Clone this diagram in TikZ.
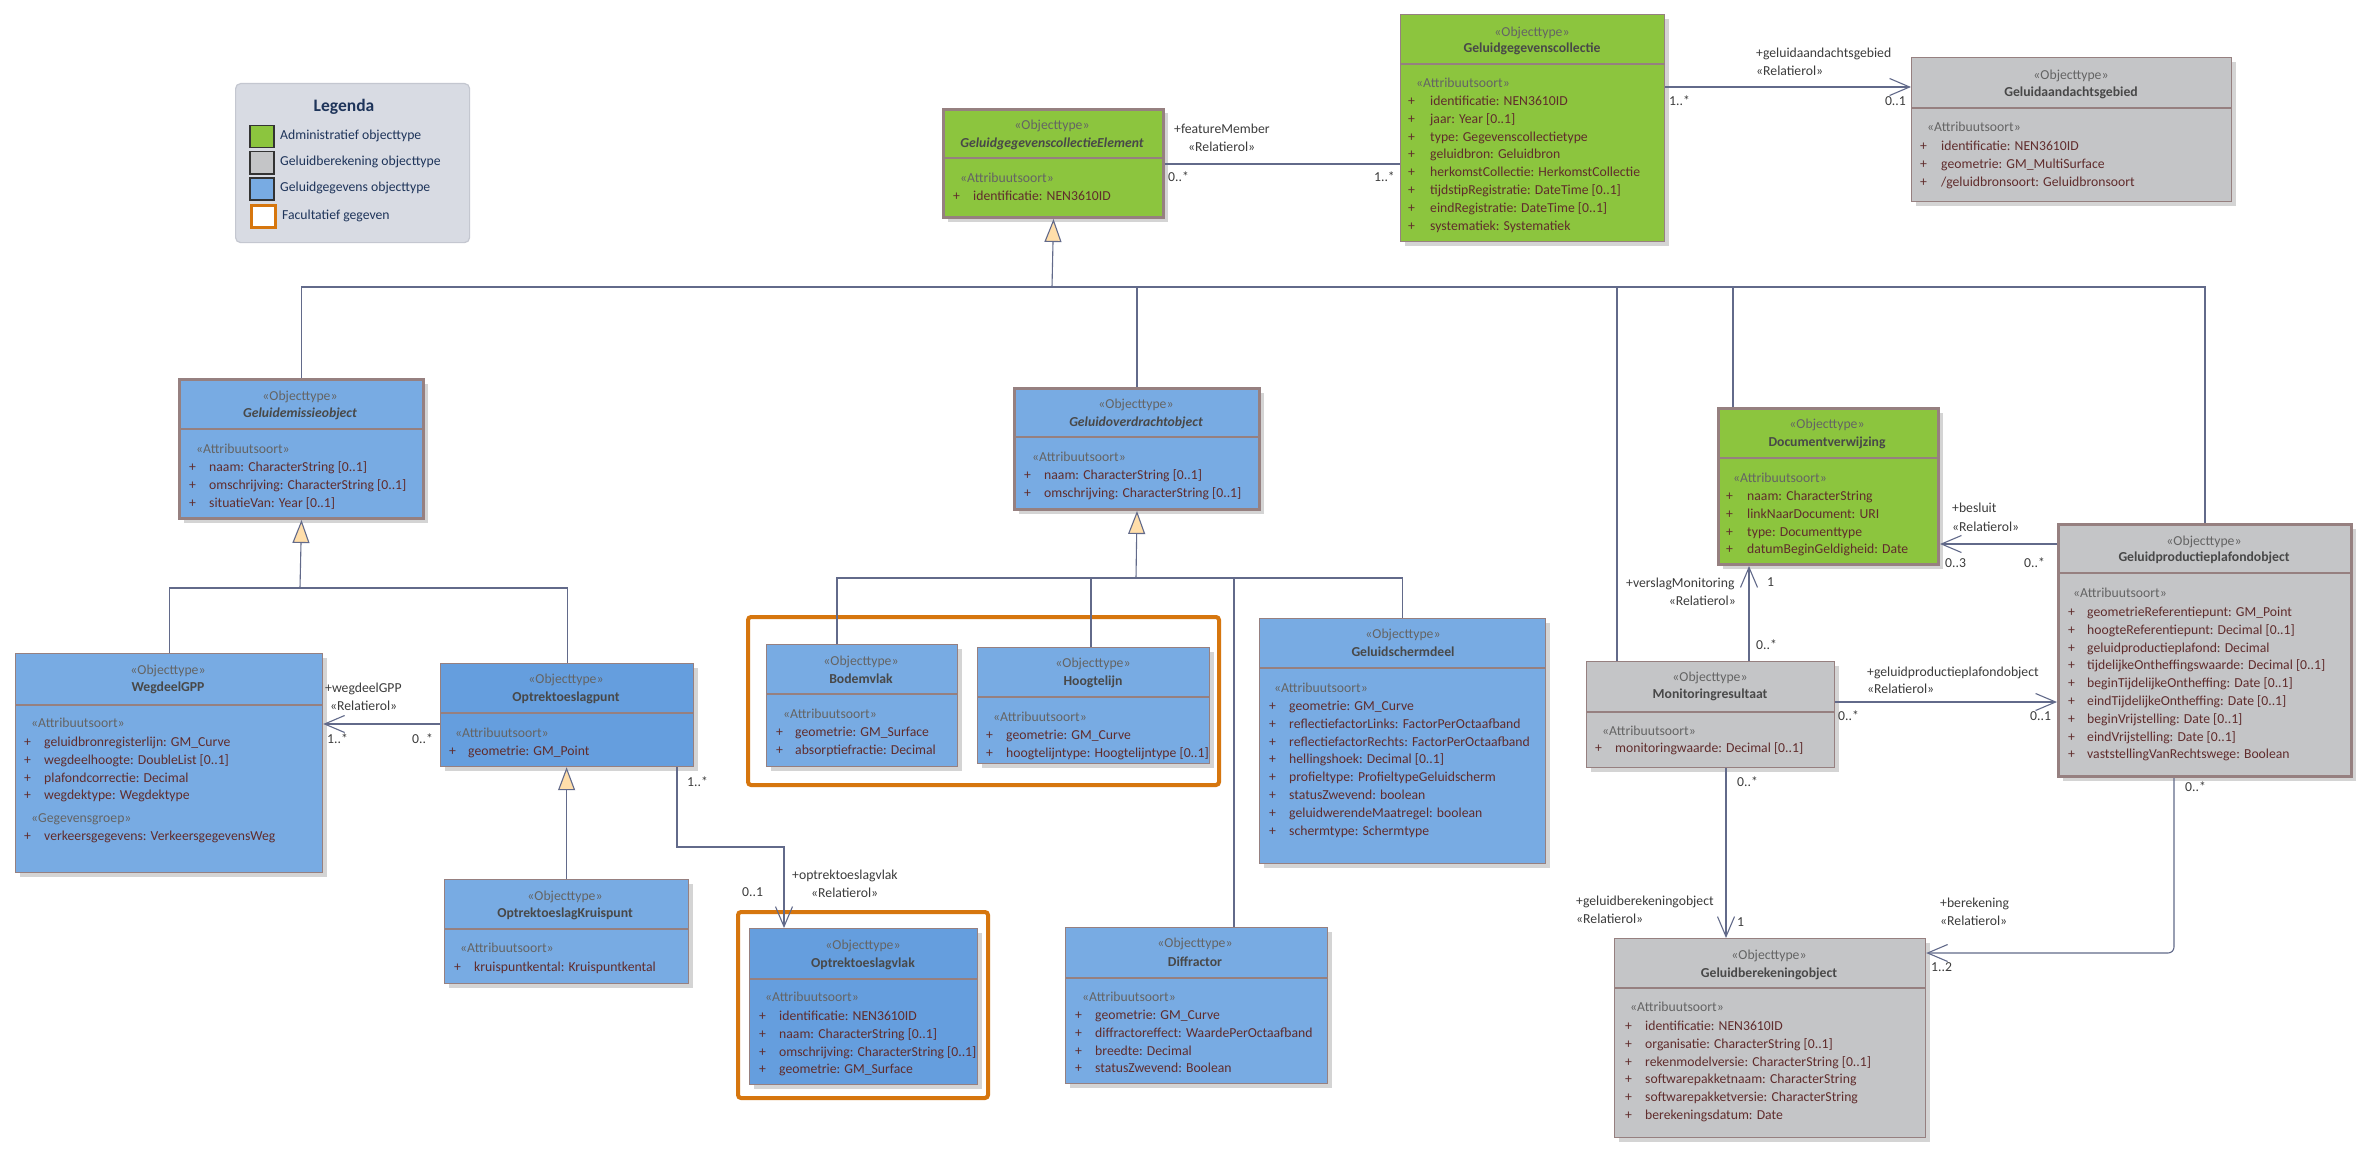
\documentclass[tikz,border=0pt]{standalone}
\usepackage{fontspec}
\setmainfont{Carlito}
\usetikzlibrary{arrows.meta,shadows}

\definecolor{cgreen}{RGB}{140,197,62}
\definecolor{cgray}{RGB}{196,197,199}
\definecolor{cblue}{RGB}{120,171,227}
\definecolor{cbluedk}{RGB}{101,158,222}
\definecolor{corange}{RGB}{214,118,14}
\definecolor{boxline}{RGB}{150,128,128}
\definecolor{wire}{RGB}{98,106,138}
\definecolor{trifill}{RGB}{255,222,170}
\definecolor{stereocol}{RGB}{100,100,100}
\definecolor{namecol}{RGB}{72,72,72}
\definecolor{attrcol}{RGB}{96,44,44}
\definecolor{lblcol}{RGB}{60,60,60}
\definecolor{legfill}{RGB}{216,219,227}
\definecolor{legline}{RGB}{196,199,208}
\definecolor{legtext}{RGB}{30,52,90}

\newcommand\umlsize{\fontsize{13.7}{16}\selectfont}

% attribute rows: prefix, x of "+", x of text, y of first row, list of rows
\newcommand\umlrows[5]{%
  \foreach \t [count=\i] in {#5} {%
    \node[attrtxt] (#1-p\i) at (#2, {#4+17.8*(\i-1)}) {+};
    \node[attrtxt] (#1-a\i) at (#3, {#4+17.8*(\i-1)}) {\t};
  }}

\tikzset{
  cls/.style={rectangle, draw=boxline, line width=1.2pt, inner sep=0pt, anchor=north west,
    drop shadow={shadow xshift=4pt, shadow yshift=-4pt, fill=black!17, opacity=1}},
  clsthick/.style={cls, line width=3pt},
  divline/.style={draw=boxline, line width=1.4pt},
  divthick/.style={draw=boxline, line width=2.5pt},
  txt/.style={inner sep=0pt, yshift=-4.5pt},
  stereo/.style={txt, anchor=base, text=stereocol},
  cname/.style={txt, anchor=base, text=namecol, font=\umlsize\bfseries},
  cnamei/.style={txt, anchor=base, text=namecol, font=\umlsize\bfseries\itshape},
  sect/.style={txt, anchor=base west, text=stereocol},
  attrtxt/.style={txt, anchor=base west, text=attrcol},
  lbl/.style={txt, anchor=base west, text=lblcol},
  lblr/.style={txt, anchor=base east, text=lblcol},
  conn/.style={draw=wire, line width=1.1pt},
  assoc/.style={conn, -{Straight Barb[length=20pt, width=17pt]}},
  gen/.style={conn, -{Triangle[length=23pt, width=17pt, fill=trifill]}},
  facult/.style={draw=corange, line width=4pt, rounded corners=3pt},
  swatch/.style={rectangle, anchor=north west, inner sep=0pt, minimum width=24pt,
    minimum height=22pt, draw=black!80, line width=1.5pt},
}

\begin{document}
\begin{tikzpicture}[x=1pt, y=-1pt, font=\umlsize]
\useasboundingbox (0,0) rectangle (2372,1153);
\fill[white] (0,0) rectangle (2372,1153);

% ---------------- legend ----------------
\node[draw=legline, fill=legfill, line width=1.2pt, rounded corners=5pt, inner sep=0pt,
  anchor=north west, minimum width=234pt, minimum height=159pt] (legend) at (235,83) {};
\node[txt, anchor=base, text=legtext, font=\fontsize{17.5}{20}\selectfont\bfseries] (legend-title) at (344,107) {Legenda};
\node[swatch, fill=cgreen] (sw-adm) at (249,125) {};
\node[swatch, fill=cgray] (sw-ber) at (249,151) {};
\node[swatch, fill=cblue] (sw-geg) at (249,177) {};
\node[swatch, fill=white, draw=corange, line width=3pt] (sw-fac) at (250,204) {};
\node[txt, anchor=base west, text=legtext] (leg-adm) at (280,135) {Administratief objecttype};
\node[txt, anchor=base west, text=legtext] (leg-ber) at (280,161) {Geluidberekening objecttype};
\node[txt, anchor=base west, text=legtext] (leg-geg) at (280,187) {Geluidgegevens objecttype};
\node[txt, anchor=base west, text=legtext] (leg-fac) at (282,215) {Facultatief gegeven};

% ---------------- optional-data frames ----------------
\draw[facult] (748,617) rectangle (1219,785);
\draw[facult] (738,912) rectangle (988,1098);

% ---------------- classes ----------------
% GeluidgegevenscollectieElement
\node[clsthick, fill=cgreen, minimum width=220pt, minimum height=108pt] (elem) at (942,108) {};
\draw[divthick] (942,158) -- (1162,158);
\node[stereo] (elem-st) at (1052,125) {«Objecttype»};
\node[cnamei] (elem-nm) at (1052,143) {GeluidgegevenscollectieElement};
\node[sect] (elem-sec) at (960,178) {«Attribuutsoort»};
\umlrows{elem}{953}{973}{196}{identificatie: NEN3610ID}

% Geluidgegevenscollectie
\node[cls, fill=cgreen, minimum width=264pt, minimum height=227pt] (coll) at (1400,14) {};
\draw[divline] (1400,64) -- (1664,64);
\node[stereo] (coll-st) at (1532,32) {«Objecttype»};
\node[cname] (coll-nm) at (1532,48) {Geluidgegevenscollectie};
\node[sect] (coll-sec) at (1416,83) {«Attribuutsoort»};
\umlrows{coll}{1408}{1430}{101}{identificatie: NEN3610ID, jaar: Year [0..1], type: Gegevenscollectietype,
  geluidbron: Geluidbron, herkomstCollectie: HerkomstCollectie, tijdstipRegistratie: DateTime [0..1],
  eindRegistratie: DateTime [0..1], systematiek: Systematiek}

% Geluidaandachtsgebied
\node[cls, fill=cgray, minimum width=320pt, minimum height=144pt] (aand) at (1911,57) {};
\draw[divline] (1911,108) -- (2231,108);
\node[stereo] (aand-st) at (2071,75) {«Objecttype»};
\node[cname] (aand-nm) at (2071,92) {Geluidaandachtsgebied};
\node[sect] (aand-sec) at (1927,127) {«Attribuutsoort»};
\umlrows{aand}{1920}{1941}{146}{identificatie: NEN3610ID, geometrie: GM\_MultiSurface,
  /geluidbronsoort: Geluidbronsoort}

% Geluidemissieobject
\node[clsthick, fill=cblue, minimum width=244pt, minimum height=139pt] (emis) at (178,378) {};
\draw[divthick] (178,429) -- (422,429);
\node[stereo] (emis-st) at (300,396) {«Objecttype»};
\node[cnamei] (emis-nm) at (300,413) {Geluidemissieobject};
\node[sect] (emis-sec) at (196,449) {«Attribuutsoort»};
\umlrows{emis}{189}{209}{467}{naam: CharacterString [0..1], omschrijving: CharacterString [0..1],
  situatieVan: Year [0..1]}

% Geluidoverdrachtobject
\node[clsthick, fill=cblue, minimum width=245pt, minimum height=121pt] (ov) at (1013,387) {};
\draw[divthick] (1013,437) -- (1258,437);
\node[stereo] (ov-st) at (1136,404) {«Objecttype»};
\node[cnamei] (ov-nm) at (1136,422) {Geluidoverdrachtobject};
\node[sect] (ov-sec) at (1032,457) {«Attribuutsoort»};
\umlrows{ov}{1024}{1044}{475}{naam: CharacterString [0..1], omschrijving: CharacterString [0..1]}

% Documentverwijzing
\node[clsthick, fill=cgreen, minimum width=220pt, minimum height=156pt] (dv) at (1717,407) {};
\draw[divthick] (1717,458) -- (1937,458);
\node[stereo] (dv-st) at (1827,424) {«Objecttype»};
\node[cname] (dv-nm) at (1827,442) {Documentverwijzing};
\node[sect] (dv-sec) at (1733,478) {«Attribuutsoort»};
\umlrows{dv}{1726}{1747}{496}{naam: CharacterString, linkNaarDocument: URI, type: Documenttype,
  datumBeginGeldigheid: Date}

% Geluidproductieplafondobject
\node[clsthick, fill=cgray, minimum width=293pt, minimum height=252pt] (pl) at (2057,523) {};
\draw[divthick] (2057,573) -- (2350,573);
\node[stereo] (pl-st) at (2204,541) {«Objecttype»};
\node[cname] (pl-nm) at (2204,557) {Geluidproductieplafondobject};
\node[sect] (pl-sec) at (2073,593) {«Attribuutsoort»};
\umlrows{pl}{2068}{2087}{612}{geometrieReferentiepunt: GM\_Point, hoogteReferentiepunt: Decimal [0..1],
  geluidproductieplafond: Decimal, tijdelijkeOntheffingswaarde: Decimal [0..1],
  beginTijdelijkeOntheffing: Date [0..1], eindTijdelijkeOntheffing: Date [0..1],
  beginVrijstelling: Date [0..1], eindVrijstelling: Date [0..1], vaststellingVanRechtswege: Boolean}

% Monitoringresultaat
\node[cls, fill=cgray, minimum width=248pt, minimum height=106pt] (mon) at (1586,661) {};
\draw[divline] (1586,712) -- (1834,712);
\node[stereo] (mon-st) at (1710,677) {«Objecttype»};
\node[cname] (mon-nm) at (1710,694) {Monitoringresultaat};
\node[sect] (mon-sec) at (1602,731) {«Attribuutsoort»};
\umlrows{mon}{1595}{1615}{748}{monitoringwaarde: Decimal [0..1]}

% Geluidberekeningobject
\node[cls, fill=cgray, minimum width=311pt, minimum height=199pt] (ber) at (1614,938) {};
\draw[divline] (1614,988) -- (1925,988);
\node[stereo] (ber-st) at (1769,955) {«Objecttype»};
\node[cname] (ber-nm) at (1769,973) {Geluidberekeningobject};
\node[sect] (ber-sec) at (1630,1007) {«Attribuutsoort»};
\umlrows{ber}{1625}{1645}{1026}{identificatie: NEN3610ID, organisatie: CharacterString [0..1],
  rekenmodelversie: CharacterString [0..1], softwarepakketnaam: CharacterString,
  softwarepakketversie: CharacterString, berekeningsdatum: Date}

% WegdeelGPP
\node[cls, fill=cblue, minimum width=307pt, minimum height=219pt] (weg) at (15,653) {};
\draw[divline] (15,705) -- (322,705);
\node[stereo] (weg-st) at (168,670) {«Objecttype»};
\node[cname] (weg-nm) at (168,687) {WegdeelGPP};
\node[sect] (weg-sec) at (31,723) {«Attribuutsoort»};
\umlrows{weg}{24}{44}{742}{geluidbronregisterlijn: GM\_Curve, wegdeelhoogte: DoubleList [0..1],
  plafondcorrectie: Decimal, wegdektype: Wegdektype}
\node[sect] (weg-sec2) at (31,818) {«Gegevensgroep»};
\umlrows{wegg}{24}{44}{836}{verkeersgegevens: VerkeersgegevensWeg}

% Optrektoeslagpunt
\node[cls, fill=cbluedk, minimum width=253pt, minimum height=103pt] (opp) at (440,663) {};
\draw[divline] (440,713) -- (693,713);
\node[stereo] (opp-st) at (566,679) {«Objecttype»};
\node[cname] (opp-nm) at (566,697) {Optrektoeslagpunt};
\node[sect] (opp-sec) at (455,733) {«Attribuutsoort»};
\umlrows{opp}{449}{468}{751}{geometrie: GM\_Point}

% OptrektoeslagKruispunt
\node[cls, fill=cblue, minimum width=244pt, minimum height=104pt] (kr) at (444,879) {};
\draw[divline] (444,929) -- (688,929);
\node[stereo] (kr-st) at (565,896) {«Objecttype»};
\node[cname] (kr-nm) at (565,913) {OptrektoeslagKruispunt};
\node[sect] (kr-sec) at (460,948) {«Attribuutsoort»};
\umlrows{kr}{454}{474}{967}{kruispuntkental: Kruispuntkental}

% Optrektoeslagvlak
\node[cls, fill=cbluedk, minimum width=228pt, minimum height=156pt] (ovl) at (749,928) {};
\draw[divline] (749,979) -- (977,979);
\node[stereo] (ovl-st) at (863,945) {«Objecttype»};
\node[cname] (ovl-nm) at (863,963) {Optrektoeslagvlak};
\node[sect] (ovl-sec) at (765,997) {«Attribuutsoort»};
\umlrows{ovl}{759}{779}{1016}{identificatie: NEN3610ID, naam: CharacterString [0..1],
  omschrijving: CharacterString [0..1], geometrie: GM\_Surface}

% Bodemvlak
\node[cls, fill=cblue, minimum width=191pt, minimum height=122pt] (bod) at (766,644) {};
\draw[divline] (766,694) -- (957,694);
\node[stereo] (bod-st) at (861,661) {«Objecttype»};
\node[cname] (bod-nm) at (861,679) {Bodemvlak};
\node[sect] (bod-sec) at (783,714) {«Attribuutsoort»};
\umlrows{bod}{776}{795}{732}{geometrie: GM\_Surface, absorptiefractie: Decimal}

% Hoogtelijn
\node[cls, fill=cblue, minimum width=232pt, minimum height=116pt] (hl) at (977,647) {};
\draw[divline] (977,697) -- (1209,697);
\node[stereo] (hl-st) at (1093,663) {«Objecttype»};
\node[cname] (hl-nm) at (1093,681) {Hoogtelijn};
\node[sect] (hl-sec) at (993,717) {«Attribuutsoort»};
\umlrows{hl}{986}{1006}{735}{geometrie: GM\_Curve, hoogtelijntype: Hoogtelijntype [0..1]}

% Geluidschermdeel
\node[cls, fill=cblue, minimum width=286pt, minimum height=245pt] (gs) at (1259,618) {};
\draw[divline] (1259,668) -- (1545,668);
\node[stereo] (gs-st) at (1403,634) {«Objecttype»};
\node[cname] (gs-nm) at (1403,652) {Geluidschermdeel};
\node[sect] (gs-sec) at (1274,688) {«Attribuutsoort»};
\umlrows{gs}{1269}{1289}{706}{geometrie: GM\_Curve, reflectiefactorLinks: FactorPerOctaafband,
  reflectiefactorRechts: FactorPerOctaafband, hellingshoek: Decimal [0..1],
  profieltype: ProfieltypeGeluidscherm, statusZwevend: boolean, geluidwerendeMaatregel: boolean,
  schermtype: Schermtype}

% Diffractor
\node[cls, fill=cblue, minimum width=262pt, minimum height=156pt] (df) at (1065,927) {};
\draw[divline] (1065,978) -- (1327,978);
\node[stereo] (df-st) at (1195,943) {«Objecttype»};
\node[cname] (df-nm) at (1195,962) {Diffractor};
\node[sect] (df-sec) at (1082,997) {«Attribuutsoort»};
\umlrows{df}{1075}{1095}{1015}{geometrie: GM\_Curve, diffractoreffect: WaardePerOctaafband,
  breedte: Decimal, statusZwevend: Boolean}

% ---------------- generalizations ----------------
\coordinate (busA) at (1052,287);
\draw[conn] (emis.north) |- (pl.north |- busA) -- (pl.north);
\draw[conn] (ov.north) -- (ov.north |- busA);
\draw[conn] (mon.north -| 1617,0) -- (busA -| 1617,0);
\draw[conn] (dv.north -| 1733,0) -- (busA -| 1733,0);
\draw[gen] (busA) -- (elem.south);

\coordinate (busB) at (300,588);
\draw[conn] (weg.north) |- (opp.north |- busB) -- (opp.north);
\draw[gen] (busB) -- (emis.south);

\coordinate (busC) at (1136,578);
\draw[conn] (bod.north -| 837,0) |- (gs.north |- busC) -- (gs.north);
\draw[conn] (hl.north -| 1091,0) -- (busC -| 1091,0);
\draw[conn] (df.north -| 1234,0) -- (busC -| 1234,0);
\draw[gen] (busC) -- (ov.south);

\draw[gen] (kr.north) -- (kr.north |- opp.south);

% ---------------- associations ----------------
\draw[conn] (elem.east |- 0,164) -- (coll.west |- 0,164);
\draw[assoc] (coll.east |- 0,87) -- (aand.west |- 0,87);
\draw[assoc] (opp.west |- 0,724) -- (weg.east |- 0,724);
\coordinate (vlakBend) at (784,847);
\draw[assoc] (opp.south -| 677,0) |- (vlakBend) -- (ovl.north -| vlakBend);
\draw[assoc] (pl.west |- 0,544) -- (dv.east |- 0,544);
\draw[assoc] (mon.north -| 1749,0) -- (dv.south -| 1749,0);
\draw[assoc] (mon.east |- 0,702) -- (pl.west |- 0,702);
\draw[assoc] (mon.south -| 1726,0) -- (ber.north -| 1726,0);
\draw[assoc, rounded corners=6pt] (pl.south -| 2174,0) |- (ber.east |- 0,953);

% ---------------- role and multiplicity labels ----------------
\node[lbl] (fm-role) at (1174,129) {+featureMember};
\node[lbl] (fm-st) at (1188,147) {«Relatierol»};
\node[lbl] (fm-m1) at (1168,177) {0..*};
\node[lblr] (fm-m2) at (1395,177) {1..*};

\node[lbl] (ag-role) at (1756,53) {+geluidaandachtsgebied};
\node[lbl] (ag-st) at (1756,71) {«Relatierol»};
\node[lbl] (ag-m1) at (1669,101) {1..*};
\node[lblr] (ag-m2) at (1906,101) {0..1};

\node[lbl] (wg-role) at (325,688) {+wegdeelGPP};
\node[lbl] (wg-st) at (330,706) {«Relatierol»};
\node[lbl] (wg-m1) at (327,739) {1..*};
\node[lbl] (wg-m2) at (412,739) {0..*};

\node[lbl] (vl-m1) at (687,782) {1..*};
\node[lbl] (vl-role) at (792,875) {+optrektoeslagvlak};
\node[lbl] (vl-st) at (811,893) {«Relatierol»};
\node[lbl] (vl-m2) at (742,892) {0..1};

\node[lbl] (bs-role) at (1952,508) {+besluit};
\node[lbl] (bs-st) at (1952,527) {«Relatierol»};
\node[lbl] (bs-m1) at (1945,563) {0..3};
\node[lbl] (bs-m2) at (2024,563) {0..*};

\node[lbl] (vm-role) at (1626,583) {+verslagMonitoring};
\node[lblr] (vm-st) at (1736,601) {«Relatierol»};
\node[lbl] (vm-m1) at (1767,582) {1};
\node[lbl] (vm-m2) at (1756,645) {0..*};

\node[lbl] (gp-role) at (1867,672) {+geluidproductieplafondobject};
\node[lbl] (gp-st) at (1867,689) {«Relatierol»};
\node[lbl] (gp-m1) at (1838,716) {0..*};
\node[lbl] (gp-m2) at (2030,716) {0..1};

\node[lbl] (gb-m1) at (1737,782) {0..*};
\node[lbl] (gb-role) at (1576,901) {+geluidberekeningobject};
\node[lbl] (gb-st) at (1576,919) {«Relatierol»};
\node[lbl] (gb-m2) at (1737,922) {1};

\node[lbl] (bk-m1) at (2185,787) {0..*};
\node[lbl] (bk-role) at (1940,903) {+berekening};
\node[lbl] (bk-st) at (1940,921) {«Relatierol»};
\node[lbl] (bk-m2) at (1931,967) {1..2};
\end{tikzpicture}
\end{document}
